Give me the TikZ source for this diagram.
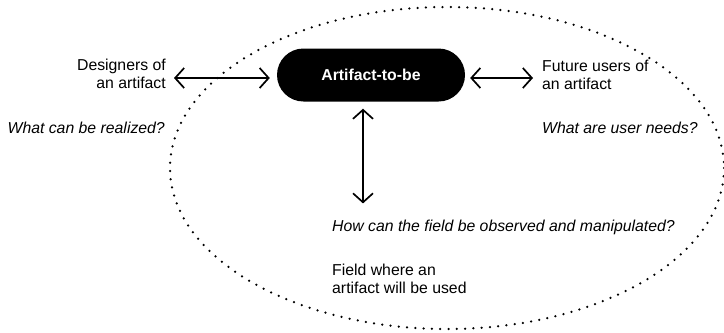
\documentclass[tikz,border=0pt]{standalone}
\usepackage{fontspec}
\setmainfont{Liberation Sans}
\usetikzlibrary{arrows.meta}
\begin{document}
\begin{tikzpicture}[x=1bp, y=-1bp,
  every node/.style={font=\fontsize{15.8bp}{18bp}\selectfont, inner sep=0pt},
  core/.style={fill=black, text=white, font=\fontsize{15.8bp}{18bp}\selectfont\bfseries,
    rounded corners=26.5bp, minimum width=188bp, minimum height=53bp},
  question/.style={font=\fontsize{15.8bp}{18bp}\selectfont\itshape},
  fielddots/.style={line width=2.5bp, dash pattern=on 0bp off 8.3bp, line cap=round},
  twoway/.style={line width=1.7bp,
    {Straight Barb[length=9bp, width=20bp, line width=1.7bp]}-{Straight Barb[length=9bp, width=20bp, line width=1.7bp]}}
]
\useasboundingbox (0,0) rectangle (724,332);

% the field: dotted ellipse around the artifact
\draw[fielddots] (447,168) ellipse [x radius=277, y radius=161];

% central artifact
\node[core] (art) at (371,75) {Artifact-to-be};

% stakeholders and questions
\node[anchor=east, align=right] (des) at (166,74) {Designers of\\an artifact};
\node[question, anchor=east] (realq) at (165,128) {What can be realized?};
\node[anchor=west, align=left] (fut) at (542,75) {Future users of\\an artifact};
\node[question, anchor=west] (userq) at (542,128) {What are user needs?};
\node[question, anchor=west] (fieldq) at (332,227) {How can the field be observed and manipulated?};
\node[anchor=west, align=left] (field) at (332,279) {Field where an\\artifact will be used};

% connectors
\draw[twoway, shorten <=8bp, shorten >=7bp] ([yshift=-3bp]des.east |- art.west) -- ([yshift=-3bp]art.west);
\draw[twoway, shorten <=5bp, shorten >=9bp] ([yshift=-3bp]art.east) -- ([yshift=-3bp]fut.west |- art.east);
\draw[twoway, shorten <=7bp, shorten >=16bp] ([xshift=-8bp]art.south) -- ([xshift=-8bp]art.south |- fieldq.north);
\end{tikzpicture}
\end{document}
